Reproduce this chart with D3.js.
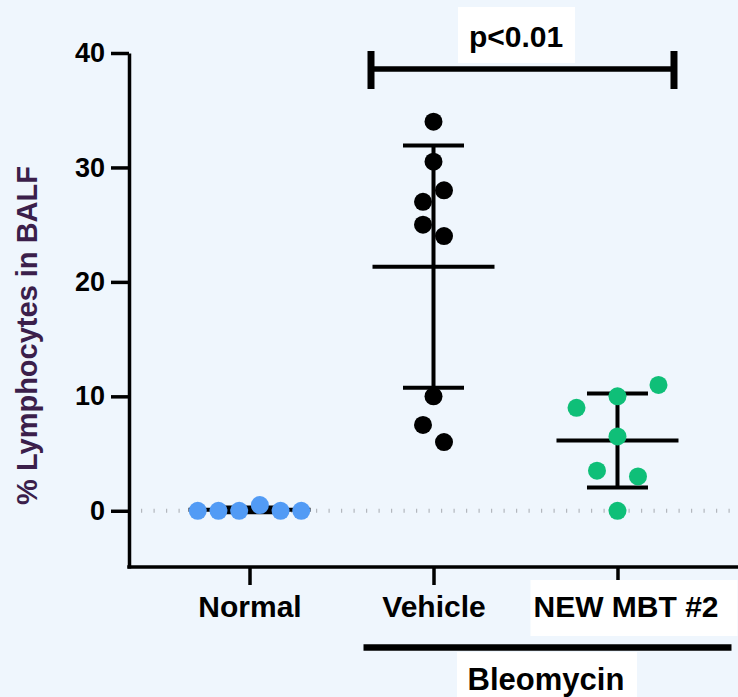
<!DOCTYPE html>
<html>
<head>
<meta charset="utf-8">
<script src="https://cdn.jsdelivr.net/npm/d3@7"></script>
<style>
  html, body { margin: 0; padding: 0; background: #eff6fd; }
  svg { display: block; font-family: "Liberation Sans", Arial, sans-serif; font-weight: bold; }
</style>
</head>
<body>
<div id="chart"></div>
<script>
const groups = ['Normal', 'Vehicle', 'NEW MBT #2'];
const normalValues = [0, 0, 0, 0.5, 0, 0];
const vehicleValues = [34, 30.5, 27, 28, 25, 24, 10, 7.5, 6];
const mbtValues = [9, 10, 11, 6.5, 3.5, 3, 0];
const yTicks = [0, 10, 20, 30, 40];
const pLabel = 'p<0.01';
const groupLabel = 'Bleomycin';
const yTitle = '% Lymphocytes in BALF';

const series = [
  { name: 'Normal', values: normalValues, color: '#529bf5', spread: 20.7 },
  { name: 'Vehicle', values: vehicleValues, color: '#000000', spread: 21 },
  { name: 'NEW MBT #2', values: mbtValues, color: '#0fbf78', spread: 41 }
];

const width = 738;
const height = 697;
const axisX = 129;
const axisY = 567;

const svg = d3.select('#chart').
append('svg').
attr('width', width).
attr('height', height);

svg.append('rect').
attr('width', width).
attr('height', height).
attr('fill', '#eff6fd');

const y = d3.scaleLinear().
domain([-5, 40]).
range([axisY + 1, 53]);

const x = d3.scalePoint().
domain(groups).
range([axisX, width]).
padding(0.655);

// place points of close values side by side, like a column scatter
function swarm(values, spread) {
  const order = values.map((v, i) => i).sort((a, b) => values[b] - values[a]);
  const offsets = new Array(values.length).fill(0);
  let cluster = [];
  const flush = function () {
    cluster.sort((a, b) => a - b);
    cluster.forEach((idx, k) => {
      offsets[idx] = (k - (cluster.length - 1) / 2) * spread;
    });
    cluster = [];
  };
  order.forEach(idx => {
    if (cluster.length && values[cluster[cluster.length - 1]] - values[idx] >= 1.8) {
      flush();
    }
    cluster.push(idx);
  });
  flush();
  return offsets;
}

// dotted zero line
svg.append('line').
attr('x1', axisX + 12).
attr('x2', width).
attr('y1', y(0)).
attr('y2', y(0)).
attr('stroke', '#b3b7bd').
attr('stroke-width', 4).
attr('stroke-dasharray', '1.2 11.3');

// y axis
const yAxis = d3.axisLeft(y).
tickValues(yTicks).
tickSize(18).
tickSizeOuter(0).
tickPadding(6);

const gy = svg.append('g').
attr('transform', 'translate(' + axisX + ',0)').
call(yAxis);
gy.select('.domain').attr('stroke', '#000').attr('stroke-width', 3.5);
gy.selectAll('.tick line').attr('stroke', '#000').attr('stroke-width', 3.5);
gy.selectAll('.tick text').
attr('fill', '#000').
style('font-size', '27px').
style('font-weight', 'bold').
style('font-family', '"Liberation Sans", Arial, sans-serif');

// x axis
svg.append('line').
attr('x1', axisX - 1.75).
attr('x2', width).
attr('y1', axisY).
attr('y2', axisY).
attr('stroke', '#000').
attr('stroke-width', 3.5);

const xAxis = d3.axisBottom(x).
tickSize(18).
tickSizeOuter(0).
tickPadding(11);

const gx = svg.append('g').
attr('transform', 'translate(0,' + axisY + ')').
call(xAxis);
gx.select('.domain').remove();
gx.selectAll('.tick line').attr('stroke', '#000').attr('stroke-width', 3.5);
gx.selectAll('.tick text').
attr('fill', '#000').
style('font-size', '30px').
style('font-weight', 'bold').
style('font-family', '"Liberation Sans", Arial, sans-serif');

// white box behind the last label
gx.selectAll('.tick').filter(d => d === 'NEW MBT #2').each(function () {
  const t = d3.select(this).select('text').attr('dx', 8);
  const b = t.node().getBBox();
  d3.select(this).insert('rect', 'text').
  attr('x', b.x + 8 - 11).
  attr('y', 13).
  attr('width', b.width + 22).
  attr('height', 56).
  attr('fill', '#fff');
});

// y title
svg.append('text').
attr('transform', 'translate(37,' + ((y(40) + y(-5)) / 2 + 25) + ') rotate(-90)').
attr('text-anchor', 'middle').
attr('fill', '#3b1f4b').
style('font-size', '29px').
text(yTitle);

// mean and SD bars, then points
series.forEach(s => {
  const cx = x(s.name);
  const mean = d3.mean(s.values);
  const sd = d3.deviation(s.values);
  const g = svg.append('g');

  g.append('line').
  attr('x1', cx).attr('x2', cx).
  attr('y1', y(mean + sd)).attr('y2', y(mean - sd)).
  attr('stroke', '#000').attr('stroke-width', 4);

  [mean + sd, mean - sd].forEach(v => {
    g.append('line').
    attr('x1', cx - 30.5).attr('x2', cx + 30.5).
    attr('y1', y(v)).attr('y2', y(v)).
    attr('stroke', '#000').attr('stroke-width', 4);
  });

  g.append('line').
  attr('x1', cx - 61).attr('x2', cx + 61).
  attr('y1', y(mean)).attr('y2', y(mean)).
  attr('stroke', '#000').attr('stroke-width', 4);

  const offsets = swarm(s.values, s.spread);
  g.selectAll('circle').
  data(s.values).
  enter().
  append('circle').
  attr('cx', (d, i) => cx + offsets[i]).
  attr('cy', d => y(d)).
  attr('r', 9).
  attr('fill', s.color);
});

// significance bracket
const bx1 = x('Vehicle') - 62.5;
const bx2 = x('NEW MBT #2') + 56.5;
const by = 69;
const bracket = svg.append('g');
bracket.append('line').
attr('x1', bx1).attr('x2', bx2).
attr('y1', by).attr('y2', by).
attr('stroke', '#000').attr('stroke-width', 5.5);
[bx1, bx2].forEach(bx => {
  bracket.append('line').
  attr('x1', bx).attr('x2', bx).
  attr('y1', by - 18).attr('y2', by + 20).
  attr('stroke', '#000').attr('stroke-width', 7);
});
bracket.append('rect').
attr('x', 458).attr('y', 7).
attr('width', 117).attr('height', 56).
attr('fill', '#fff');
bracket.append('text').
attr('x', 516).
attr('y', 47).
attr('text-anchor', 'middle').
attr('fill', '#000').
style('font-size', '30px').
text(pLabel);

// group bracket under the x axis
const gBar = svg.append('g');
gBar.append('line').
attr('x1', x('Vehicle') - 70).
attr('x2', x('NEW MBT #2') + 114).
attr('y1', 647.5).attr('y2', 647.5).
attr('stroke', '#000').attr('stroke-width', 6.5);
gBar.append('rect').
attr('x', 457).attr('y', 652).
attr('width', 180).attr('height', 50).
attr('fill', '#fff');
gBar.append('text').
attr('x', 546).
attr('y', 690).
attr('text-anchor', 'middle').
attr('fill', '#000').
style('font-size', '31px').
text(groupLabel);
</script>
</body>
</html>
